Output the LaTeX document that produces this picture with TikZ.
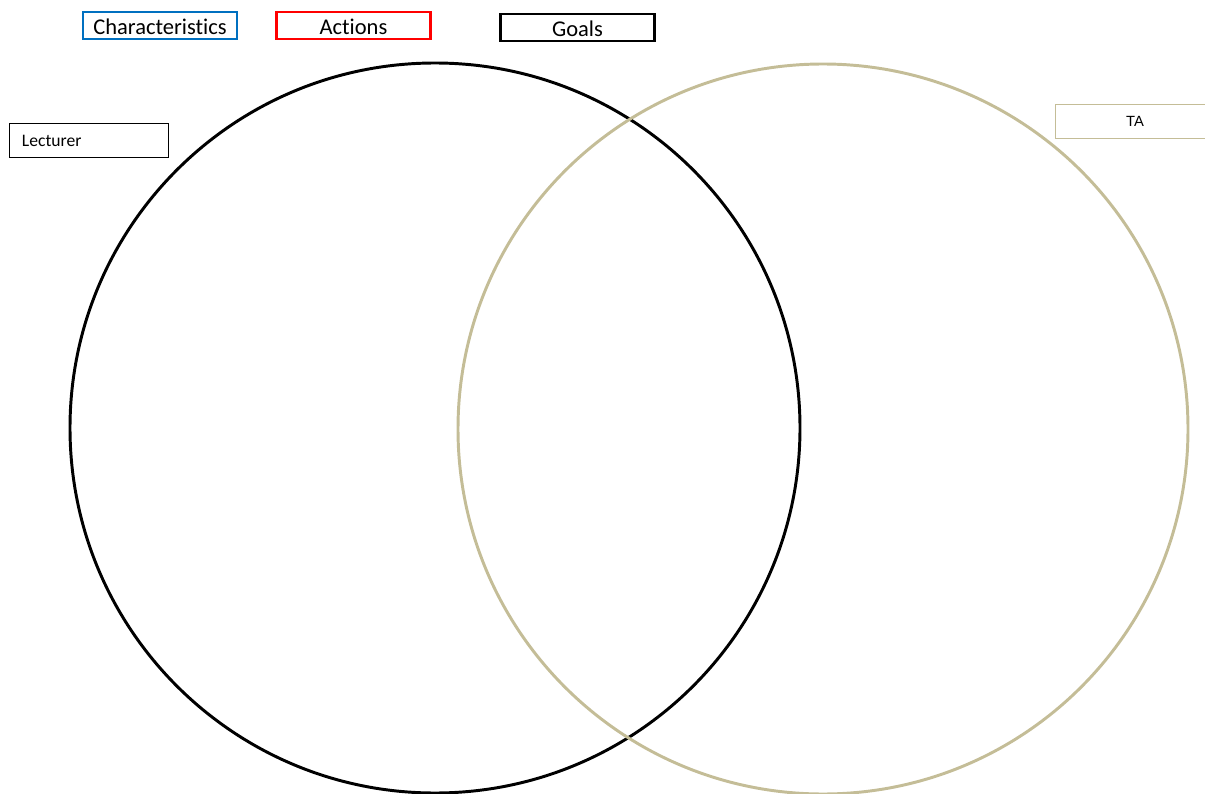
\documentclass[tikz,border=0pt]{standalone}
\usepackage{fontspec}
\setmainfont{Carlito}[Ligatures=NoCommon]
\newfontfamily\arialfont{Liberation Sans}
\usepackage{xcolor}
\usetikzlibrary{positioning}
\definecolor{khaki}{RGB}{196,189,151}
\definecolor{ppblue}{RGB}{0,112,192}

\begin{document}
\begin{tikzpicture}[
  x=0.025cm, y=-0.025cm,
  keybox/.style={draw, line width=2.1pt, minimum width=3.85cm,
                 minimum height=0.675cm, inner sep=0pt,
                 text height=15pt, text depth=1.6pt,
                 font=\fontsize{16}{18}\selectfont},
  namebox/.style={draw, line width=0.6pt, minimum width=3.98cm,
                  minimum height=0.85cm, inner sep=0pt},
  ring/.style={line width=2.1pt},
]
\useasboundingbox (0,0) rectangle (1205,794);

% Key
\node[keybox, draw=ppblue] (chars) at (160,25.5) {Characteristics};
\node[keybox, draw=red]    (acts)  at (353.5,25.5) {Actions};
\node[keybox, draw=black]  (goals) at (577.5,27.5) {Goals};

% Circles
\draw[ring, black] (435,428) circle (365);
\draw[ring, khaki] (823,429) circle (365);

% Labels
\node[namebox, draw=black, text width=3.35cm, align=left,
      text height=11pt, text depth=1.6pt,
      font=\fontsize{12.5}{14}\selectfont] (lect) at (89,140) {Lecturer};
\node[namebox, draw=khaki, text height=9.5pt, text depth=1.5pt,
      font=\arialfont\fontsize{10.5}{12}\selectfont] (ta) at (1135,121) {TA};

\end{tikzpicture}
\end{document}
